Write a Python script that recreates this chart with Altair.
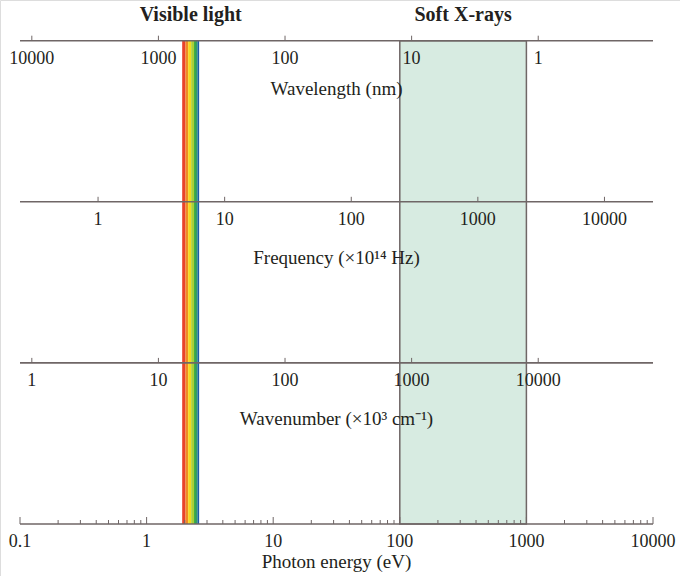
import math
import altair as alt
import pandas as pd

# ---------------- data ----------------
# rows: 0 = wavelength, 1 = frequency, 2 = wavenumber, 3 = photon energy
axis_rows = [0, 1, 2, 3]
energy_min, energy_max = 0.1, 10000.0

wavelength_nm = [10000, 1000, 100, 10, 1]
frequency_1e14Hz = [1, 10, 100, 1000, 10000]
wavenumber_1e3cm = [1, 10, 100, 1000, 10000]
energy_major = [0.1, 1, 10, 100, 1000, 10000]
energy_labels = ["0.1", "1", "10", "100", "1000", "10000"]
energy_minor = [m * d for d in [0.1, 1, 10, 100, 1000] for m in range(2, 10)]

axis_titles = ["Wavelength (nm)", "Frequency (×10¹⁴ Hz)",
               "Wavenumber (×10³ cm⁻¹)", "Photon energy (eV)"]
title_offsets = [48, 56, 56, 38]

# visible light stripes (eV edges) and colours
vis_edges = [1.91, 2.03, 2.13, 2.25, 2.37, 2.46, 2.53, 2.60]
vis_colors = ["#e8432b", "#f08a24", "#f5d81c", "#a8cf38", "#3aa844",
              "#1d8f63", "#1c5aa8"]

soft_xray = (100, 1000)
region_names = ["Visible light", "Soft X-rays"]

# physical conversions to photon energy (eV)
HC_NM = 1239.84          # eV*nm
H_1E14 = 0.4135667       # eV per 1e14 Hz
HC_1E3CM = 0.1239842     # eV per 1e3 cm^-1

# ---------------- frames ----------------
def fmt(v):
    return str(int(v)) if v >= 1 else str(v)

tick_rows = []
for w in wavelength_nm:
    tick_rows.append({"E": HC_NM / w, "row": 0, "label": fmt(w)})
for f in frequency_1e14Hz:
    tick_rows.append({"E": H_1E14 * f, "row": 1, "label": fmt(f)})
for k in wavenumber_1e3cm:
    tick_rows.append({"E": HC_1E3CM * k, "row": 2, "label": fmt(k)})
ticks = pd.DataFrame(tick_rows)

major = pd.DataFrame({"E": energy_major, "row": 3, "label": energy_labels})
minor = pd.DataFrame({"E": energy_minor, "row": 3})

lines = pd.DataFrame({"x": energy_min, "x2": energy_max, "row": axis_rows})

mid_E = math.sqrt(energy_min * energy_max)
titles = pd.DataFrame({"E": mid_E, "row": axis_rows, "text": axis_titles,
                       "off": title_offsets})

vis = pd.DataFrame({"lo": vis_edges[:-1], "hi": vis_edges[1:],
                    "c": vis_colors, "top": 0, "bot": 3})
box = pd.DataFrame({"lo": [soft_xray[0]], "hi": [soft_xray[1]], "top": 0, "bot": 3})

region_labels = pd.DataFrame({
    "E": [math.sqrt(vis_edges[0] * vis_edges[-1]), math.sqrt(soft_xray[0] * soft_xray[1])],
    "text": region_names, "row": 0})

# ---------------- scales ----------------
px_per_decade = 126.6
left_px, W, H = 20, 680, 576
a = math.log10(energy_min) - left_px / px_per_decade
b = a + W / px_per_decade
xscale = alt.Scale(type="log", domain=[10 ** a, 10 ** b], nice=False)

row_top_px, row_gap_px = 40.7, 161.1
yscale = alt.Scale(domain=[-row_top_px / row_gap_px, (H - row_top_px) / row_gap_px],
                   reverse=True, nice=False, zero=False)

X = lambda f: alt.X(f, type="quantitative", scale=xscale, axis=None)
Y = lambda f: alt.Y(f, type="quantitative", scale=yscale, axis=None)

FONT = "Liberation Serif"
LINE = "#6f6666"
TXT = "#231f20"

box_layer = alt.Chart(box).mark_rect(fill="#d7ebe1", stroke=LINE, strokeWidth=1.5).encode(
    x=X("lo"), x2="hi", y=Y("top"), y2="bot")

vis_layer = alt.Chart(vis).mark_rect().encode(
    x=X("lo"), x2="hi", y=Y("top"), y2="bot",
    color=alt.Color("c:N", scale=None))

line_layer = alt.Chart(lines).mark_rule(color=LINE, strokeWidth=1.6).encode(
    x=X("x"), x2="x2", y=Y("row"))

tick_layer = alt.Chart(ticks).mark_rule(color=LINE, strokeWidth=1, y2Offset=-5).encode(
    x=X("E"), y=Y("row"), y2="row")
major_layer = alt.Chart(major).mark_rule(color=LINE, strokeWidth=1, y2Offset=-7).encode(
    x=X("E"), y=Y("row"), y2="row")
minor_layer = alt.Chart(minor).mark_rule(color=LINE, strokeWidth=1, y2Offset=-4).encode(
    x=X("E"), y=Y("row"), y2="row")

tick_text = alt.Chart(ticks).mark_text(font=FONT, fontSize=18, color=TXT, dy=18,
                                       baseline="middle").encode(
    x=X("E"), y=Y("row"), text="label")
major_text = alt.Chart(major).mark_text(font=FONT, fontSize=18, color=TXT, dy=18,
                                        baseline="middle").encode(
    x=X("E"), y=Y("row"), text="label")

title_layers = []
for i, r in titles.iterrows():
    title_layers.append(
        alt.Chart(titles.iloc[[i]]).mark_text(font=FONT, fontSize=19, color=TXT,
                                              dy=int(r["off"]), baseline="middle").encode(
            x=X("E"), y=Y("row"), text="text"))

region_text = alt.Chart(region_labels).mark_text(font=FONT, fontSize=20, fontWeight="bold",
                                                 color=TXT, dy=-26, baseline="middle").encode(
    x=X("E"), y=Y("row"), text="text")

chart = alt.layer(
    box_layer, vis_layer, line_layer, tick_layer, major_layer, minor_layer,
    tick_text, major_text, *title_layers, region_text
).properties(
    width=W, height=H, autosize=alt.AutoSizeParams(type="none"), padding=0
).configure_view(stroke=None).configure(background="white")

chart.save("out.html", embed_options={"renderer": "svg", "actions": False})
